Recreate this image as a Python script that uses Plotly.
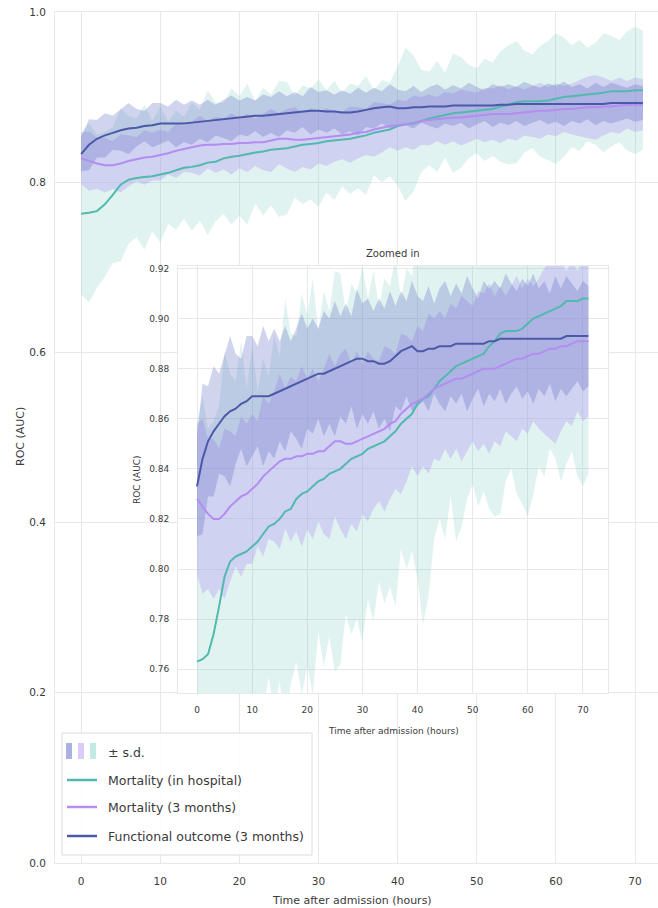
import plotly.graph_objects as go

# ---------------- data ----------------
hours = list(range(72))

mort_hosp_mean = [0.763, 0.764, 0.766, 0.774, 0.785, 0.797, 0.803, 0.805, 0.806, 0.807,
                  0.809, 0.811, 0.814, 0.817, 0.818, 0.820, 0.823, 0.824, 0.828, 0.830,
                  0.831, 0.833, 0.835, 0.836, 0.838, 0.839, 0.840, 0.842, 0.844, 0.845,
                  0.846, 0.848, 0.849, 0.850, 0.851, 0.853, 0.855, 0.858, 0.860, 0.862,
                  0.866, 0.868, 0.869, 0.872, 0.875, 0.877, 0.879, 0.881, 0.882, 0.883,
                  0.884, 0.885, 0.886, 0.889, 0.891, 0.894, 0.895, 0.895, 0.895, 0.896,
                  0.898, 0.900, 0.901, 0.902, 0.903, 0.904, 0.905, 0.907, 0.907, 0.907,
                  0.908, 0.908]
mort_hosp_sd = [0.095, 0.105, 0.090, 0.085, 0.080, 0.090, 0.075, 0.070, 0.085, 0.065,
                0.080, 0.060, 0.070, 0.060, 0.075, 0.065, 0.085, 0.070, 0.065, 0.080,
                0.070, 0.083, 0.060, 0.075, 0.065, 0.080, 0.078, 0.060, 0.070, 0.065,
                0.075, 0.060, 0.070, 0.055, 0.065, 0.060, 0.070, 0.050, 0.060, 0.055,
                0.070, 0.090, 0.080, 0.060, 0.055, 0.065, 0.050, 0.070, 0.065, 0.055,
                0.050, 0.060, 0.055, 0.065, 0.070, 0.072, 0.060, 0.055, 0.065, 0.070,
                0.077, 0.070, 0.060, 0.065, 0.055, 0.060, 0.070, 0.065, 0.060, 0.070,
                0.075, 0.070]

mort_3m_mean = [0.828, 0.825, 0.822, 0.820, 0.820, 0.822, 0.825, 0.827, 0.829, 0.830,
                0.832, 0.834, 0.837, 0.839, 0.841, 0.843, 0.844, 0.844, 0.845, 0.845,
                0.846, 0.846, 0.847, 0.847, 0.849, 0.851, 0.851, 0.850, 0.850, 0.851,
                0.852, 0.853, 0.854, 0.855, 0.856, 0.858, 0.859, 0.862, 0.864, 0.866,
                0.867, 0.868, 0.870, 0.872, 0.873, 0.874, 0.875, 0.876, 0.876, 0.877,
                0.878, 0.879, 0.880, 0.880, 0.880, 0.881, 0.882, 0.883, 0.884, 0.884,
                0.885, 0.886, 0.886, 0.887, 0.888, 0.888, 0.889, 0.889, 0.890, 0.891,
                0.891, 0.891]
mort_3m_sd = [0.030, 0.035, 0.030, 0.032, 0.028, 0.034, 0.030, 0.026, 0.032, 0.028,
              0.030, 0.025, 0.032, 0.027, 0.030, 0.035, 0.028, 0.033, 0.030, 0.036,
              0.030, 0.034, 0.028, 0.033, 0.037, 0.030, 0.035, 0.038, 0.032, 0.036,
              0.030, 0.034, 0.030, 0.028, 0.033, 0.030, 0.027, 0.032, 0.029, 0.025,
              0.030, 0.027, 0.032, 0.028, 0.030, 0.026, 0.031, 0.028, 0.033, 0.030,
              0.027, 0.032, 0.030, 0.034, 0.029, 0.032, 0.027, 0.030, 0.033, 0.028,
              0.031, 0.027, 0.030, 0.033, 0.036, 0.038, 0.034, 0.030, 0.033, 0.028,
              0.032, 0.030]

func_3m_mean = [0.833, 0.844, 0.851, 0.855, 0.858, 0.861, 0.863, 0.864, 0.866, 0.867,
                0.869, 0.869, 0.869, 0.869, 0.870, 0.871, 0.872, 0.873, 0.874, 0.875,
                0.876, 0.877, 0.878, 0.878, 0.879, 0.880, 0.881, 0.882, 0.883, 0.884,
                0.884, 0.883, 0.883, 0.882, 0.882, 0.883, 0.885, 0.887, 0.888, 0.889,
                0.887, 0.887, 0.888, 0.888, 0.889, 0.889, 0.889, 0.890, 0.890, 0.890,
                0.890, 0.890, 0.890, 0.891, 0.891, 0.892, 0.892, 0.892, 0.892, 0.892,
                0.892, 0.892, 0.892, 0.892, 0.892, 0.892, 0.892, 0.893, 0.893, 0.893,
                0.893, 0.893]
func_3m_sd = [0.020, 0.030, 0.022, 0.026, 0.020, 0.024, 0.030, 0.022, 0.018, 0.026,
              0.024, 0.020, 0.028, 0.022, 0.026, 0.020, 0.025, 0.018, 0.022, 0.027,
              0.020, 0.023, 0.018, 0.025, 0.021, 0.027, 0.020, 0.024, 0.018, 0.028,
              0.022, 0.025, 0.020, 0.026, 0.022, 0.028, 0.020, 0.024, 0.019, 0.026,
              0.022, 0.020, 0.025, 0.018, 0.023, 0.026, 0.020, 0.024, 0.020, 0.027,
              0.022, 0.018, 0.025, 0.021, 0.024, 0.020, 0.026, 0.022, 0.019, 0.024,
              0.021, 0.026, 0.020, 0.023, 0.018, 0.025, 0.020, 0.024, 0.021, 0.018,
              0.022, 0.020]

series_names = ["Mortality (in hospital)", "Mortality (3 months)", "Functional outcome (3 months)"]
series_means = [mort_hosp_mean, mort_3m_mean, func_3m_mean]
series_sds = [mort_hosp_sd, mort_3m_sd, func_3m_sd]
band_label = "± s.d."

x_tick_vals = [0, 10, 20, 30, 40, 50, 60, 70]
main_y_ticks = [0.0, 0.2, 0.4, 0.6, 0.8, 1.0]
inset_y_ticks = [0.76, 0.78, 0.80, 0.82, 0.84, 0.86, 0.88, 0.90, 0.92]
x_title = "Time after admission (hours)"
y_title = "ROC (AUC)"
inset_title = "Zoomed in"

# ---------------- style ----------------
W, H = 658, 908
FONT = "DejaVu Sans"
line_colors = ["#52b9ae", "#b48cf2", "#4b59a8"]
fill_colors = ["rgba(120,200,190,0.22)", "rgba(175,150,240,0.35)", "rgba(90,100,190,0.28)"]
patch_colors = ["#aab1e0", "#d8cdf8", "#c3e9e4"]
grid_c = "#e8e8e8"
text_c = "#3a3a3a"


def px_x(X):
    return X / W


def px_y(Y):
    return 1 - Y / H


fig = go.Figure()

for axes in (("x", "y"), ("x2", "y2")):
    xa, ya = axes
    for i in range(3):
        m, s = series_means[i], series_sds[i]
        lo = [a - b for a, b in zip(m, s)]
        hi = [a + b for a, b in zip(m, s)]
        fig.add_trace(go.Scatter(x=hours, y=lo, mode="lines", line=dict(width=0),
                                 showlegend=False, hoverinfo="skip", xaxis=xa, yaxis=ya))
        fig.add_trace(go.Scatter(x=hours, y=hi, mode="lines", line=dict(width=0),
                                 fill="tonexty", fillcolor=fill_colors[i],
                                 showlegend=False, hoverinfo="skip", xaxis=xa, yaxis=ya))
    for i in range(3):
        fig.add_trace(go.Scatter(x=hours, y=series_means[i], mode="lines",
                                 line=dict(color=line_colors[i], width=2),
                                 name=series_names[i], showlegend=False,
                                 xaxis=xa, yaxis=ya))

axis_common = dict(showgrid=True, gridcolor=grid_c, gridwidth=1, zeroline=False,
                   showline=True, linecolor=grid_c, linewidth=1, mirror=True,
                   ticks="", automargin=False, color=text_c)

fig.update_layout(
    width=W, height=H,
    margin=dict(l=0, r=0, t=0, b=0),
    paper_bgcolor="white", plot_bgcolor="white",
    font=dict(family=FONT, color=text_c),
    showlegend=False,
    xaxis=dict(domain=[px_x(55), 1.0], range=[-3.3, 72.9], tickvals=x_tick_vals,
               tickfont=dict(size=10.5), ticklabelstandoff=8, **axis_common),
    yaxis=dict(domain=[px_y(863), px_y(12)], range=[0, 1.0], tickvals=main_y_ticks,
               tickformat=".1f", tickfont=dict(size=10.5), ticklabelstandoff=6, **axis_common),
    xaxis2=dict(domain=[px_x(178), px_x(608)], range=[-3.45, 74.55], tickvals=x_tick_vals,
                anchor="y2", tickfont=dict(size=9), ticklabelstandoff=8, **axis_common),
    yaxis2=dict(domain=[px_y(693), px_y(266)], range=[0.7505, 0.921], tickvals=inset_y_ticks,
                anchor="x2", tickformat=".2f", tickfont=dict(size=9), ticklabelstandoff=6,
                **axis_common),
)

ann = []
ann.append(dict(text=x_title, x=px_x(352), y=px_y(900), xref="paper", yref="paper",
                showarrow=False, font=dict(size=11), xanchor="center", yanchor="middle"))
ann.append(dict(text=y_title, x=px_x(20), y=px_y(437), xref="paper", yref="paper",
                showarrow=False, font=dict(size=11), textangle=-90,
                xanchor="center", yanchor="middle"))
ann.append(dict(text=x_title, x=px_x(393), y=px_y(731), xref="paper", yref="paper",
                showarrow=False, font=dict(size=9), xanchor="center", yanchor="middle"))
ann.append(dict(text=y_title, x=px_x(137), y=px_y(480), xref="paper", yref="paper",
                showarrow=False, font=dict(size=9), textangle=-90,
                xanchor="center", yanchor="middle"))
ann.append(dict(text=inset_title, x=px_x(393), y=px_y(253), xref="paper", yref="paper",
                showarrow=False, font=dict(size=10), xanchor="center", yanchor="middle"))

# custom legend
shapes = []
shapes.append(dict(type="rect", xref="paper", yref="paper",
                   x0=px_x(62), x1=px_x(312), y0=px_y(855), y1=px_y(733),
                   fillcolor="rgba(255,255,255,0.85)", line=dict(color="#dcdcdc", width=1),
                   layer="above"))
for k, xx in enumerate([66, 78, 90]):
    shapes.append(dict(type="rect", xref="paper", yref="paper",
                       x0=px_x(xx), x1=px_x(xx + 6), y0=px_y(759), y1=px_y(743),
                       fillcolor=patch_colors[k], line=dict(width=0), layer="above"))
row_y = [752, 780, 807, 836]
for i in range(3):
    shapes.append(dict(type="line", xref="paper", yref="paper",
                       x0=px_x(67), x1=px_x(97), y0=px_y(row_y[i + 1]), y1=px_y(row_y[i + 1]),
                       line=dict(color=line_colors[i], width=2.5), layer="above"))
legend_texts = [band_label] + series_names
for t, yy in zip(legend_texts, row_y):
    ann.append(dict(text=t, x=px_x(106), y=px_y(yy), xref="paper", yref="paper",
                    showarrow=False, font=dict(size=12.5), xanchor="left", yanchor="middle"))

fig.update_layout(annotations=ann, shapes=shapes)
fig.write_html("out.html")
